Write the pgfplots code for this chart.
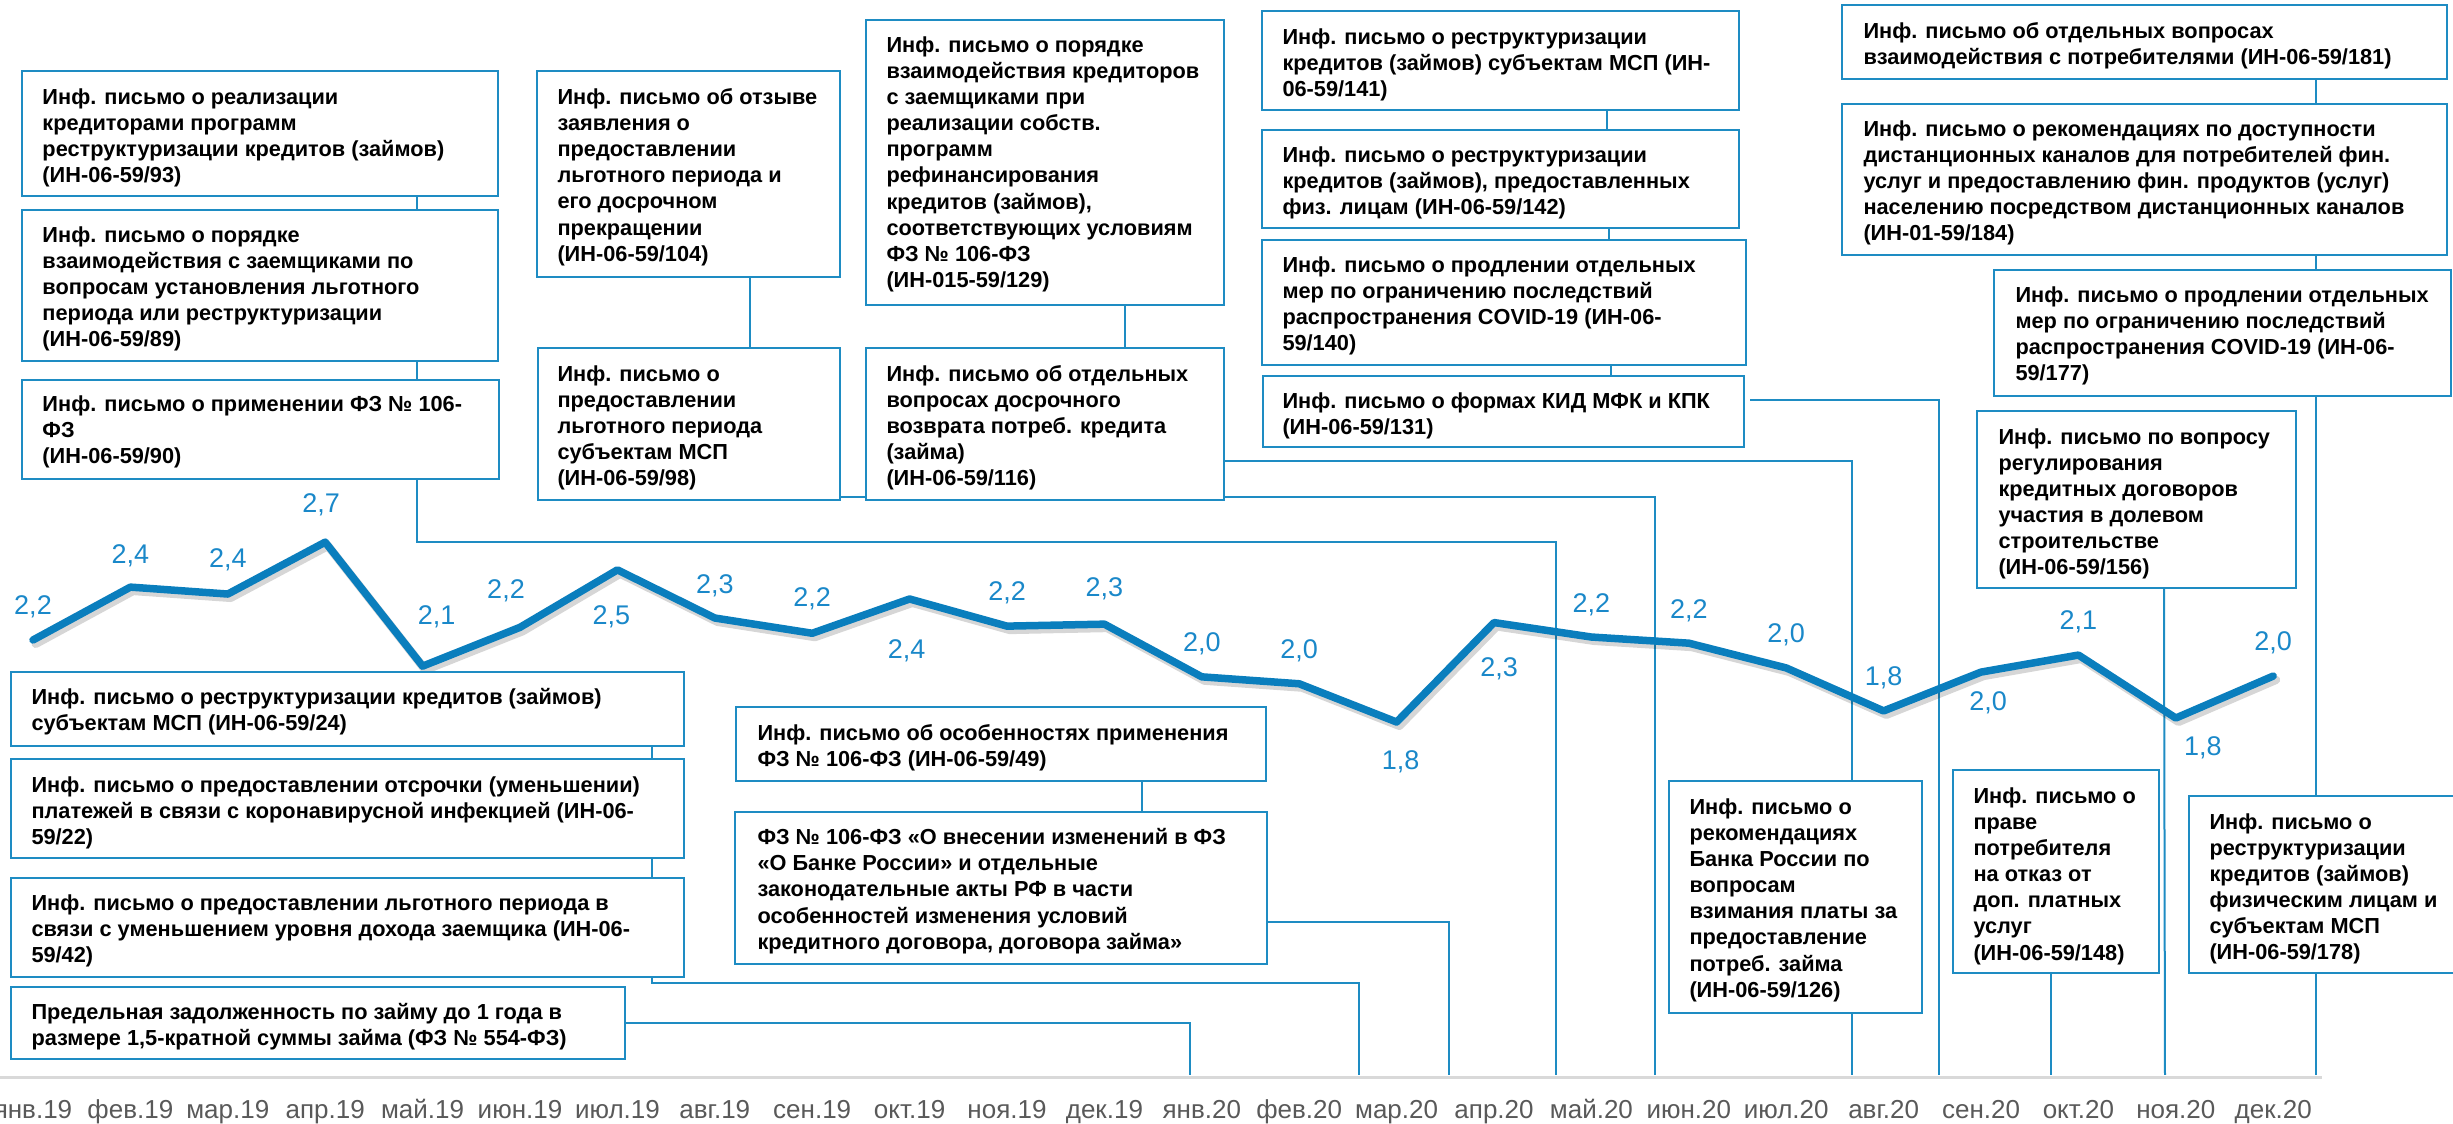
\documentclass[border=0pt]{standalone}
\usepackage{fontspec}
\setmainfont{Liberation Sans}
\usepackage{pgfplots}
\usepackage{pgfplotstable}
\pgfplotsset{compat=1.18}
\definecolor{boxblue}{RGB}{30,140,195}
\definecolor{lineblue}{RGB}{10,126,189}
\definecolor{lblblue}{RGB}{26,136,201}
\definecolor{axgray}{RGB}{217,217,217}
\definecolor{tickgray}{RGB}{89,89,89}
\newcommand{\boxfont}{\fontsize{8.7pt}{10.45pt}\selectfont\bfseries}
\newcommand{\bx}[7]{%
  \filldraw[fill=white,draw=boxblue,line width=0.8pt] (#1,#2) rectangle (#3,#4);
  \node[anchor=north west,inner sep=0pt,align=left,font=\boxfont] at (#5,#6) {#7};}
\pgfplotstableread{
x y
0 2.206
1 2.473
2 2.438
3 2.70
4 2.074
5 2.27
6 2.56
7 2.317
8 2.24
9 2.413
10 2.276
11 2.286
12 2.02
13 1.985
14 1.792
15 2.294
16 2.221
17 2.19
18 2.065
19 1.848
20 2.044
21 2.13
22 1.812
23 2.024
}\datatable
\begin{document}
\begin{tikzpicture}
% connectors (behind everything)
\begin{scope}[x=0.4pt,y=-0.4pt,draw=boxblue,line width=0.8pt]
\draw (417,196)--(417,210);
\draw (417,361)--(417,380);
\draw (417,479)--(417,542)--(1556,542)--(1556,1075);
\draw (750,277)--(750,348);
\draw (840,497)--(1655,497)--(1655,1075);
\draw (1125,305)--(1125,348);
\draw (1224,461)--(1852,461)--(1852,1075);
\draw (1607,110)--(1607,130);
\draw (1609,228)--(1609,240);
\draw (1611,365)--(1611,376);
\draw (1750,400)--(1939,400)--(1939,1075);
\draw (2316,79)--(2316,104);
\draw (2316,255)--(2316,270);
\draw (2316,396)--(2316,1075);
\draw (2164,588)--(2165,1075);
\draw (2051,973)--(2051,1075);
\draw (652,746)--(652,759);
\draw (652,858)--(652,878);
\draw (652,977)--(652,983)--(1359,983)--(1359,1075);
\draw (625,1023)--(1190,1023)--(1190,1075);
\draw (1142,781)--(1142,812);
\draw (1267,922)--(1449,922)--(1449,1075);
\end{scope}
\begin{axis}[
  at={(-6.28pt,-430.8pt)}, anchor=south west,
  scale only axis, width=935.04pt, height=237.72pt,
  xmin=-0.5, xmax=23.5, ymin=0, ymax=3,
  axis x line=bottom, axis y line=none,
  x axis line style={-, draw=axgray, line width=1.2pt},
  ytick=\empty,
  xtick={0,...,23},
  xticklabels={янв.19,фев.19,мар.19,апр.19,май.19,июн.19,июл.19,авг.19,сен.19,окт.19,ноя.19,дек.19,янв.20,фев.20,мар.20,апр.20,май.20,июн.20,июл.20,авг.20,сен.20,окт.20,ноя.20,дек.20},
  xtick style={draw=none},
  xticklabel style={anchor=base, yshift=-14.4pt, font=\fontsize{10.4pt}{12pt}\selectfont, text=tickgray},
  clip=false,
]
\addplot[lineblue, line width=3pt, line join=round, line cap=round, mark=none,
  preaction={draw=black, opacity=0.16, line width=3.4pt, transform canvas={xshift=1.1pt,yshift=-1.5pt}}]
  table[x=x,y=y]{\datatable};
\addplot[draw=none, mark=none, nodes near coords, point meta=explicit symbolic,
  visualization depends on={value \thisrow{dx}\as\ddx},
  visualization depends on={value \thisrow{dy}\as\ddy},
  nodes near coords style={anchor=center, inner sep=0pt, xshift=\ddx*0.4pt, yshift=\ddy*0.4pt,
    font=\fontsize{10.8pt}{12pt}\selectfont, text=lblblue}]
  table[x=x,y=y,meta=lab]{
x y lab dx dy
0 2.206 2,2 0 33
1 2.473 2,4 0 31
2 2.438 2,4 0 34
3 2.70 2,7 -4 37
4 2.074 2,1 14 49
5 2.27 2,2 -14 37
6 2.56 2,5 -6 -47
7 2.317 2,3 0 32
8 2.24 2,2 0 34
9 2.413 2,4 -3 -52
10 2.276 2,2 0 33
11 2.286 2,3 0 35
12 2.02 2,0 0 33
13 1.985 2,0 0 33
14 1.792 1,8 4 -40
15 2.294 2,3 5 -46
16 2.221 2,2 0 32
17 2.19 2,2 0 32
18 2.065 2,0 0 33
19 1.848 1,8 0 33
20 2.044 2,0 7 -31
21 2.13 2,1 0 33
22 1.812 1,8 27 -30
23 2.024 2,0 0 33
};
\end{axis}
% boxes
\begin{scope}[x=0.4pt,y=-0.4pt]
\bx{22}{71}{498}{196}{42}{88}{Инф. письмо о реализации\\кредиторами программ\\реструктуризации кредитов (займов)\\(ИН-06-59/93)}
\bx{22}{210}{498}{361}{42}{226}{Инф. письмо о порядке\\взаимодействия с заемщиками по\\вопросам установления льготного\\периода или реструктуризации\\(ИН-06-59/89)}
\bx{22}{380}{499}{479}{42}{395}{Инф. письмо о применении ФЗ № 106-\\ФЗ\\(ИН-06-59/90)}
\bx{537}{71}{840}{277}{557}{88}{Инф. письмо об отзыве\\заявления о\\предоставлении\\льготного периода и\\его досрочном\\прекращении\\(ИН-06-59/104)}
\bx{538}{348}{840}{500}{557}{365}{Инф. письмо о\\предоставлении\\льготного периода\\субъектам МСП\\(ИН-06-59/98)}
\bx{866}{20}{1224}{305}{886}{36}{Инф. письмо о порядке\\взаимодействия кредиторов\\с заемщиками при\\реализации собств.\\программ\\рефинансирования\\кредитов (займов),\\соответствующих условиям\\ФЗ № 106-ФЗ\\(ИН-015-59/129)}
\bx{866}{348}{1224}{500}{886}{365}{Инф. письмо об отдельных\\вопросах досрочного\\возврата потреб. кредита\\(займа)\\(ИН-06-59/116)}
\bx{1262}{11}{1739}{110}{1282}{28}{Инф. письмо о реструктуризации\\кредитов (займов) субъектам МСП (ИН-\\06-59/141)}
\bx{1262}{130}{1739}{228}{1282}{146}{Инф. письмо о реструктуризации\\кредитов (займов), предоставленных\\физ. лицам (ИН-06-59/142)}
\bx{1262}{240}{1746}{365}{1282}{256}{Инф. письмо о продлении отдельных\\мер по ограничению последствий\\распространения COVID-19 (ИН-06-\\59/140)}
\bx{1263}{376}{1744}{447}{1282}{392}{Инф. письмо о формах КИД МФК и КПК\\(ИН-06-59/131)}
\bx{1842}{5}{2447}{79}{1863}{22}{Инф. письмо об отдельных вопросах\\взаимодействия с потребителями (ИН-06-59/181)}
\bx{1842}{104}{2447}{255}{1863}{120}{Инф. письмо о рекомендациях по доступности\\дистанционных каналов для потребителей фин.\\услуг и предоставлению фин. продуктов (услуг)\\населению посредством дистанционных каналов\\(ИН-01-59/184)}
\bx{1994}{270}{2451}{396}{2015}{286}{Инф. письмо о продлении отдельных\\мер по ограничению последствий\\распространения COVID-19 (ИН-06-\\59/177)}
\bx{1977}{411}{2296}{588}{1998}{428}{Инф. письмо по вопросу\\регулирования\\кредитных договоров\\участия в долевом\\строительстве\\(ИН-06-59/156)}
\bx{1669}{781}{1922}{1013}{1689}{798}{Инф. письмо о\\рекомендациях\\Банка России по\\вопросам\\взимания платы за\\предоставление\\потреб. займа\\(ИН-06-59/126)}
\bx{1953}{770}{2159}{973}{1973}{787}{Инф. письмо о\\праве\\потребителя\\на отказ от\\доп. платных\\услуг\\(ИН-06-59/148)}
\bx{2189}{796}{2470}{973}{2209}{813}{Инф. письмо о\\реструктуризации\\кредитов (займов)\\физическим лицам и\\субъектам МСП\\(ИН-06-59/178)}
\bx{11}{672}{684}{746}{31}{688}{Инф. письмо о реструктуризации кредитов (займов)\\субъектам МСП (ИН-06-59/24)}
\bx{11}{759}{684}{858}{31}{776}{Инф. письмо о предоставлении отсрочки (уменьшении)\\платежей в связи с коронавирусной инфекцией (ИН-06-\\59/22)}
\bx{11}{878}{684}{977}{31}{894}{Инф. письмо о предоставлении льготного периода в\\связи с уменьшением уровня дохода заемщика (ИН-06-\\59/42)}
\bx{11}{987}{625}{1059}{31}{1003}{Предельная задолженность по займу до 1 года в\\размере 1,5-кратной суммы займа (ФЗ № 554-ФЗ)}
\bx{736}{707}{1266}{781}{757}{724}{Инф. письмо об особенностях применения\\ФЗ № 106-ФЗ (ИН-06-59/49)}
\bx{735}{812}{1267}{964}{757}{828}{ФЗ № 106-ФЗ «О внесении изменений в ФЗ\\«О Банке России» и отдельные\\законодательные акты РФ в части\\особенностей изменения условий\\кредитного договора, договора займа»}
\end{scope}
\pgfresetboundingbox
\useasboundingbox (0pt,0pt) rectangle (981.2pt,-449.2pt);
\end{tikzpicture}
\end{document}
